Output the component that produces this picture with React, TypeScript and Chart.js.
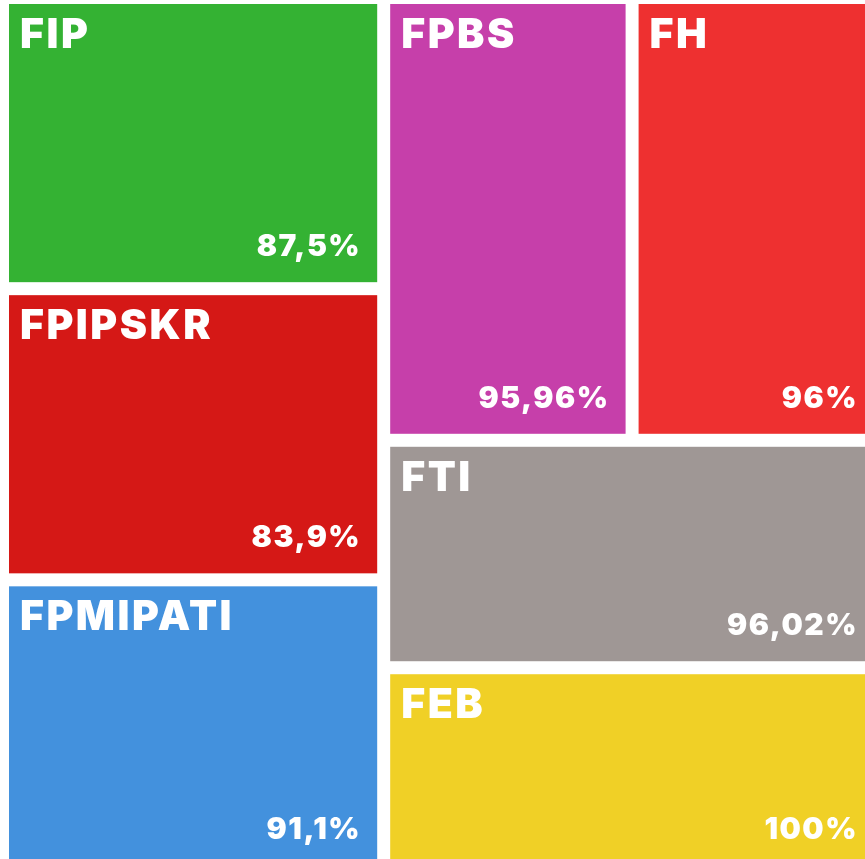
import { useEffect, useRef } from "react";
import { Chart, registerables } from "chart.js";

Chart.register(...registerables);

// ---- data ----
const faculties = ["FIP", "FPIPSKR", "FPMIPATI", "FPBS", "FH", "FTI", "FEB"];
const percentages = [87.5, 83.9, 91.1, 95.96, 96, 96.02, 100];
const percentLabels = ["87,5%", "83,9%", "91,1%", "95,96%", "96%", "96,02%", "100%"];
// tile sizes (areas)
const tileSizes = [111, 111, 111, 110, 110, 113, 101];
const tileColors = ["#34B233", "#D51816", "#4391DD", "#C63FAA", "#EE3030", "#9F9795", "#F0D026"];

// visible window onto the unit treemap (the picture is a crop of it)
const X_MIN = -0.00285;
const X_MAX = 0.98235;
const Y_MIN = 0.00286;
const Y_MAX = 0.98626;

type Tile = { i: number; x0: number; y0: number; x1: number; y1: number };

// d3-style squarified treemap (golden ratio), input order preserved
function squarify(weights: number[], x0: number, y0: number, x1: number, y1: number): Tile[] {
  const ratio = (1 + Math.sqrt(5)) / 2;
  const out: Tile[] = [];
  const n = weights.length;
  let i0 = 0;
  let i1 = 0;
  let value = weights.reduce((a, b) => a + b, 0);
  while (i0 < n) {
    const dx = x1 - x0;
    const dy = y1 - y0;
    let sumValue = weights[i1++];
    let minValue = sumValue;
    let maxValue = sumValue;
    const alpha = Math.max(dy / dx, dx / dy) / (value * ratio);
    let beta = sumValue * sumValue * alpha;
    let minRatio = Math.max(maxValue / beta, beta / minValue);
    for (; i1 < n; ++i1) {
      const v = weights[i1];
      sumValue += v;
      if (v < minValue) minValue = v;
      if (v > maxValue) maxValue = v;
      beta = sumValue * sumValue * alpha;
      const newRatio = Math.max(maxValue / beta, beta / minValue);
      if (newRatio > minRatio) {
        sumValue -= v;
        break;
      }
      minRatio = newRatio;
    }
    if (dx < dy) {
      const yEnd = y0 + (dy * sumValue) / value;
      let x = x0;
      for (let k = i0; k < i1; k++) {
        const w = (dx * weights[k]) / sumValue;
        out.push({ i: k, x0: x, y0, x1: x + w, y1: yEnd });
        x += w;
      }
      y0 = yEnd;
    } else {
      const xEnd = x0 + (dx * sumValue) / value;
      let y = y0;
      for (let k = i0; k < i1; k++) {
        const h = (dy * weights[k]) / sumValue;
        out.push({ i: k, x0, y0: y, x1: xEnd, y1: y + h });
        y += h;
      }
      x0 = xEnd;
    }
    value -= sumValue;
    i0 = i1;
  }
  return out;
}

export default function App() {
  const canvasRef = useRef<HTMLCanvasElement | null>(null);

  useEffect(() => {
    const canvas = canvasRef.current;
    if (!canvas) return;
    const tiles = squarify(tileSizes, 0, 0, 1, 1);
    const GAP = 6.5;

    const treemapPlugin = {
      id: "treemapTiles",
      afterDatasetsDraw(chart: any) {
        const { ctx, chartArea } = chart;
        const xs = chart.scales.x;
        const ys = chart.scales.y;
        ctx.save();
        ctx.beginPath();
        ctx.rect(chartArea.left, chartArea.top, chartArea.right - chartArea.left, chartArea.bottom - chartArea.top);
        ctx.clip();
        tiles.forEach((t) => {
          const left = xs.getPixelForValue(t.x0) + GAP;
          const right = xs.getPixelForValue(t.x1) - GAP;
          const top = ys.getPixelForValue(t.y0) + GAP;
          const bottom = ys.getPixelForValue(t.y1) - GAP;
          ctx.fillStyle = tileColors[t.i];
          ctx.fillRect(left, top, right - left, bottom - top);

          ctx.fillStyle = "#ffffff";
          ctx.textBaseline = "alphabetic";
          (ctx as any).letterSpacing = "2.5px";
          ctx.font = "900 41px Inter";
          ctx.textAlign = "left";
          ctx.fillText(faculties[t.i], left + 11, top + 44);

          (ctx as any).letterSpacing = "1.5px";
          ctx.font = "900 30px Inter";
          ctx.textAlign = "right";
          ctx.fillText(percentLabels[t.i], right - 16, bottom - 26);
        });
        (ctx as any).letterSpacing = "0px";
        ctx.restore();
      },
    };

    const chart = new Chart(canvas, {
      type: "scatter",
      data: {
        datasets: [
          {
            label: "Persentase",
            data: tiles.map((t) => ({ x: (t.x0 + t.x1) / 2, y: (t.y0 + t.y1) / 2, v: percentages[t.i] })) as any,
            pointRadius: 0,
            pointHoverRadius: 0,
          },
        ],
      },
      options: {
        animation: false,
        responsive: true,
        maintainAspectRatio: false,
        layout: { padding: 0 },
        plugins: { legend: { display: false }, tooltip: { enabled: false } },
        scales: {
          x: { type: "linear", min: X_MIN, max: X_MAX, display: false },
          y: { type: "linear", min: Y_MIN, max: Y_MAX, reverse: true, display: false },
        },
      },
      plugins: [treemapPlugin],
    });
    return () => chart.destroy();
  }, []);

  return (
    <div style={{ position: "fixed", left: 0, top: 0, width: "100vw", height: "100vh", background: "#ffffff" }}>
      <canvas ref={canvasRef} />
    </div>
  );
}
